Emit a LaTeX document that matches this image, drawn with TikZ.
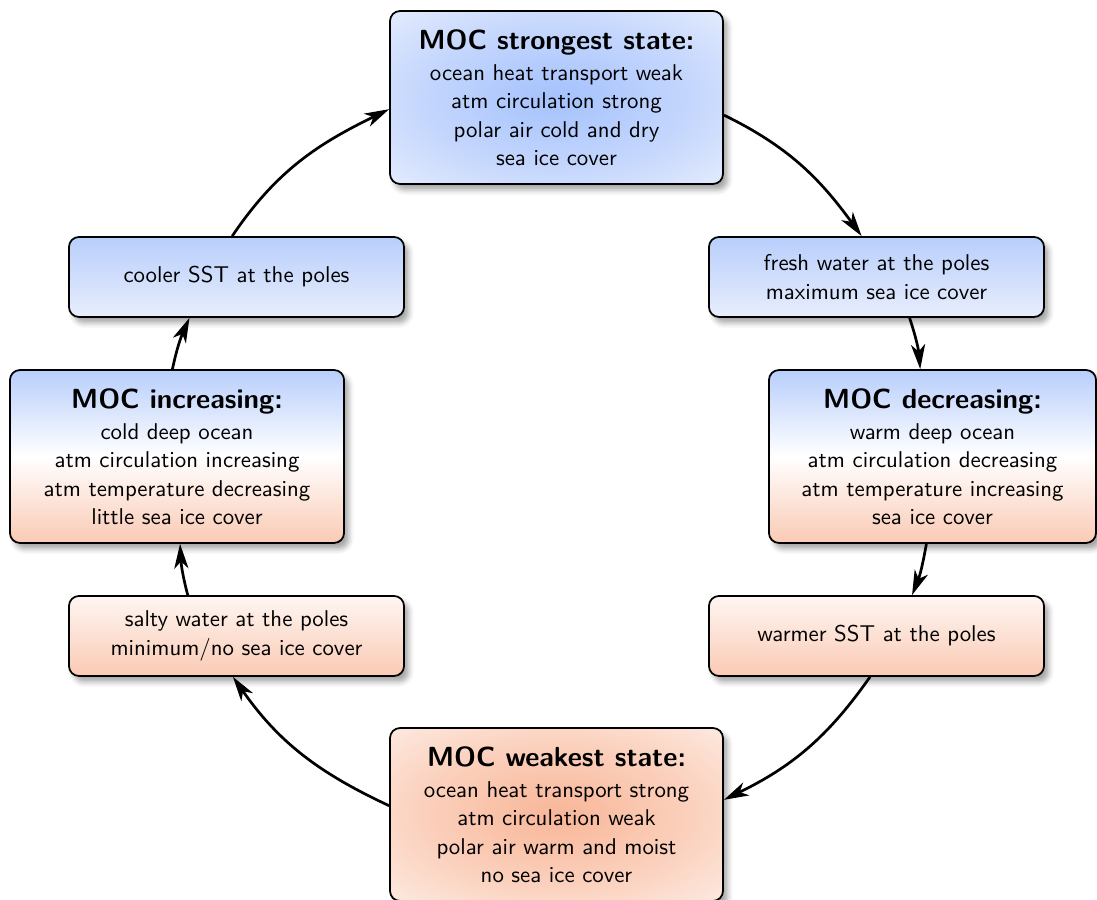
\documentclass[tikz,border=0pt]{standalone}
\usetikzlibrary{arrows.meta,shadows.blur}

\definecolor{coolBlue}{RGB}{184,206,252}
\definecolor{paleBlue}{RGB}{232,238,252}
\definecolor{warmOrange}{RGB}{250,202,180}
\definecolor{paleOrange}{RGB}{254,246,242}
\definecolor{coreBlue}{RGB}{164,194,253}
\definecolor{midBlue}{RGB}{196,214,253}
\definecolor{rimBlue}{RGB}{228,236,253}
\definecolor{coreOrange}{RGB}{248,182,152}
\definecolor{midOrange}{RGB}{251,208,188}
\definecolor{rimOrange}{RGB}{253,234,225}

% radial fills for the two extreme states
\pgfdeclareradialshading{coldcore}{\pgfpoint{0bp}{0bp}}{%
  color(0bp)=(coreBlue); color(20bp)=(midBlue);
  color(36bp)=(rimBlue); color(50bp)=(rimBlue)}
\pgfdeclareradialshading{warmcore}{\pgfpoint{0bp}{0bp}}{%
  color(0bp)=(coreOrange); color(20bp)=(midOrange);
  color(36bp)=(rimOrange); color(50bp)=(rimOrange)}

\tikzset{
  box/.style={draw=black, line width=0.75pt, rounded corners=4.25pt,
    align=center, inner sep=0pt,
    blur shadow={shadow xshift=2pt, shadow yshift=-2.5pt,
      shadow blur radius=2.2pt, shadow opacity=35}},
  bigbox/.style={box, minimum height=73.5pt},
  smallbox/.style={box, minimum width=142.4pt, minimum height=34pt},
  coldstate/.style={bigbox, shading=coldcore},
  warmstate/.style={bigbox, shading=warmcore},
  transit/.style={bigbox, top color=coolBlue, bottom color=warmOrange, middle color=white},
  coolbox/.style={smallbox, top color=coolBlue, bottom color=paleBlue},
  warmbox/.style={smallbox, top color=paleOrange, bottom color=warmOrange},
  flow/.style={line width=1.15pt, -{Stealth[length=10.5pt,width=6pt,inset=3pt]}},
}
\newcommand{\boxtitle}[1]{{\fontsize{11.75pt}{14pt}\selectfont\bfseries #1}\\[1.3pt]}

\begin{document}
\begin{tikzpicture}[x=0.425pt, y=0.425pt,
    font=\sffamily\fontsize{9.7pt}{12pt}\selectfont]
  \useasboundingbox (0,0) rectangle (1097,-900);

  % the eight stages of the cycle
  \node[coldstate, minimum width=141.5pt] (top) at (556.5,-97.5)
    {\boxtitle{MOC strongest state:}ocean heat transport weak\\atm circulation strong\\polar air cold and dry\\sea ice cover};
  \node[coolbox] (fresh) at (876.5,-277)
    {fresh water at the poles\\maximum sea ice cover};
  \node[transit, minimum width=139pt] (dec) at (932.5,-456.5)
    {\boxtitle{MOC decreasing:}warm deep ocean\\atm circulation decreasing\\atm temperature increasing\\sea ice cover};
  \node[warmbox] (warm) at (876.5,-636)
    {warmer SST at the poles};
  \node[warmstate, minimum width=141.5pt] (weak) at (556.5,-814.5)
    {\boxtitle{MOC weakest state:}ocean heat transport strong\\atm circulation weak\\polar air warm and moist\\no sea ice cover};
  \node[warmbox] (salty) at (236.5,-636)
    {salty water at the poles\\minimum/no sea ice cover};
  \node[transit, minimum width=142pt] (inc) at (177,-456.5)
    {\boxtitle{MOC increasing:}cold deep ocean\\atm circulation increasing\\atm temperature decreasing\\little sea ice cover};
  \node[coolbox] (cool) at (236.5,-277)
    {cooler SST at the poles};

  % clockwise connectors along the circle
  \draw[flow] (top.-6)    to[out=-26,  in=126]  (fresh.110);
  \draw[flow] (fresh.-51) to[out=-72,  in=95]   (dec.98);
  \draw[flow] (dec.-94)   to[out=-100, in=68]   (warm.49);
  \draw[flow] (warm.-99)  to[out=-125, in=26]   (weak.5);
  \draw[flow] (weak.177)  to[out=155,  in=-55]  (salty.-95);
  \draw[flow] (salty.140) to[out=105,  in=-87]  (inc.-88);
  \draw[flow] (inc.93)    to[out=78,   in=-114] (cool.-139);
  \draw[flow] (cool.96)   to[out=56,   in=206]  (top.184);
\end{tikzpicture}
\end{document}
